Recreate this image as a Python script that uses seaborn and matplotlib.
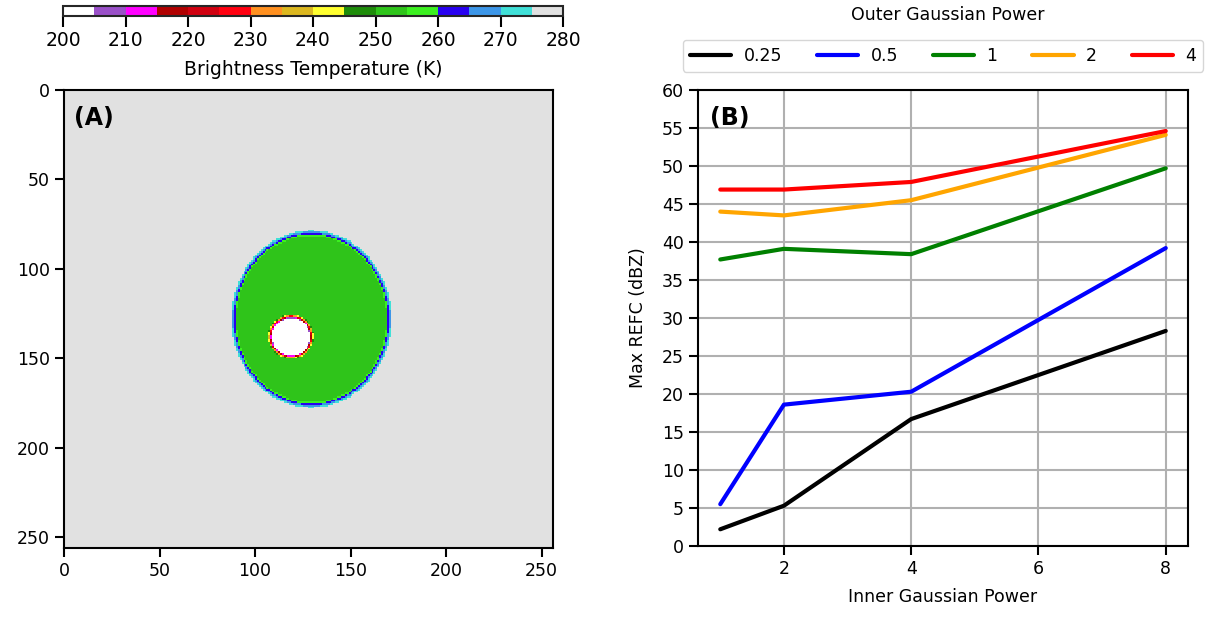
import numpy as np
import pandas as pd
import matplotlib
matplotlib.use("Agg")
import matplotlib.pyplot as plt
import seaborn as sns
from matplotlib.colors import ListedColormap, BoundaryNorm

sns.set_theme(style="ticks")
plt.rcParams['font.family'] = ['DejaVu Sans']
plt.rcParams['font.size'] = 12.5
plt.rcParams['axes.labelsize'] = 12.5
plt.rcParams['text.color'] = 'black'
plt.rcParams['axes.labelcolor'] = 'black'

# ---- panel B data ----
inner_power = [1, 2, 4, 8]
outer_labels = ['0.25', '0.5', '1', '2', '4']
refc_025 = [2.2, 5.3, 16.7, 28.3]
refc_05 = [5.5, 18.6, 20.3, 39.2]
refc_1 = [37.7, 39.1, 38.4, 49.7]
refc_2 = [44.0, 43.5, 45.5, 54.1]
refc_4 = [46.9, 46.9, 47.9, 54.6]
line_colors = ['black', 'blue', 'green', 'orange', 'red']

# ---- panel A field parameters ----
nx = ny = 256
bg_temp = 277.5
cloud_temp = 252.5
core_temp = 200.0
cloud_center = (129.0, 127.5)
cloud_radii = (40.6, 48.0)
core_center = (118.4, 137.4)
core_radii = (10.9, 11.3)

# Brightness temperature colour bins (5 K each)
bt_bounds = list(range(200, 285, 5))
bt_colors = ['#ffffff', '#9a50c8', '#ff00ff', '#b00000', '#d00010', '#ff0010',
             '#ff9020', '#dcb820', '#ffff30', '#1e8c0a', '#2fc41a', '#3cf020',
             '#2800f0', '#3c96e8', '#40e0d8', '#e1e1e1']
bt_ticks = list(range(200, 290, 10))

# build the brightness temperature field
yy, xx = np.mgrid[0:ny, 0:nx]
r_cloud = np.sqrt(((xx - cloud_center[0]) / cloud_radii[0]) ** 2 +
                  ((yy - cloud_center[1]) / cloud_radii[1]) ** 2)
r_core = np.sqrt(((xx - core_center[0]) / core_radii[0]) ** 2 +
                 ((yy - core_center[1]) / core_radii[1]) ** 2)
w_cloud = np.clip((r_cloud - 0.96) / 0.08, 0, 1)
w_core = np.clip((r_core - 0.9) / 0.2, 0, 1)
field = cloud_temp + (bg_temp - cloud_temp) * w_cloud
field = np.where(r_core < 1.2, core_temp + (field - core_temp) * w_core, field)

W, H = 1209, 617
fig = plt.figure(figsize=(W / 100, H / 100), dpi=100)
ax_a = fig.add_axes([64 / W, 1 - 548 / H, 489 / W, 458 / H])
ax_b = fig.add_axes([698 / W, 1 - 546 / H, 490 / W, 456 / H])
cax = fig.add_axes([63 / W, 1 - 16 / H, 500 / W, 10 / H])

cmap = ListedColormap(bt_colors)
norm = BoundaryNorm(bt_bounds, cmap.N)
im = ax_a.imshow(field, cmap=cmap, norm=norm, aspect='auto',
                 interpolation='nearest', extent=(0, 256, 256, 0))
ax_a.set_xlim(0, 256)
ax_a.set_ylim(256, 0)
ax_a.set_xticks([0, 50, 100, 150, 200, 250])
ax_a.set_yticks([0, 50, 100, 150, 200, 250])
ax_a.text(0.02, 0.965, '(A)', transform=ax_a.transAxes, fontsize=17,
          fontweight='bold', va='top', ha='left', color='black')

cb = fig.colorbar(im, cax=cax, orientation='horizontal', ticks=bt_ticks)
cb.minorticks_off()
cb.set_label('Brightness Temperature (K)', fontsize=13.5, labelpad=7,
             color='black')
cb.outline.set_linewidth(1.5)
cax.tick_params(length=8, width=1.5, labelsize=13.5, pad=3, colors='black')

# ---- panel B lines ----
df = pd.DataFrame({
    'Inner Gaussian Power': inner_power * 5,
    'Max REFC (dBZ)': refc_025 + refc_05 + refc_1 + refc_2 + refc_4,
    'Outer': [lab for lab in outer_labels for _ in inner_power],
})
sns.lineplot(data=df, x='Inner Gaussian Power', y='Max REFC (dBZ)',
             hue='Outer', hue_order=outer_labels, palette=line_colors,
             linewidth=3, ax=ax_b)
ax_b.set_ylim(0, 60)
ax_b.set_yticks(range(0, 65, 5))
ax_b.set_xticks([2, 4, 6, 8])
ax_b.set_xlabel('Inner Gaussian Power', fontsize=12.5, color='black',
                labelpad=7.5)
ax_b.set_ylabel('Max REFC (dBZ)', fontsize=12.5, color='black',
                labelpad=11)
ax_b.grid(True, color='#b0b0b0', linewidth=1.5)
ax_b.text(0.025, 0.965, '(B)', transform=ax_b.transAxes, fontsize=17,
          fontweight='bold', va='top', ha='left', color='black')
leg = ax_b.legend(loc='lower center', bbox_to_anchor=(0.5, 1.04), ncol=5,
                  frameon=True, handlelength=2.4, handletextpad=0.7,
                  columnspacing=2.0, fontsize=12.5, borderaxespad=0)
for line in leg.get_lines():
    line.set_linewidth(3)
for t in leg.get_texts():
    t.set_color('black')
fig.text(948 / W, 1 - 15 / H, 'Outer Gaussian Power', ha='center',
         va='center', fontsize=12.5, color='black')

for ax in (ax_a, ax_b):
    for sp in ax.spines.values():
        sp.set_visible(True)
        sp.set_color('black')
        sp.set_linewidth(1.5)
    ax.tick_params(colors='black', labelsize=12.5, length=6.5, width=1.5)

fig.savefig('out.png', dpi=100)
